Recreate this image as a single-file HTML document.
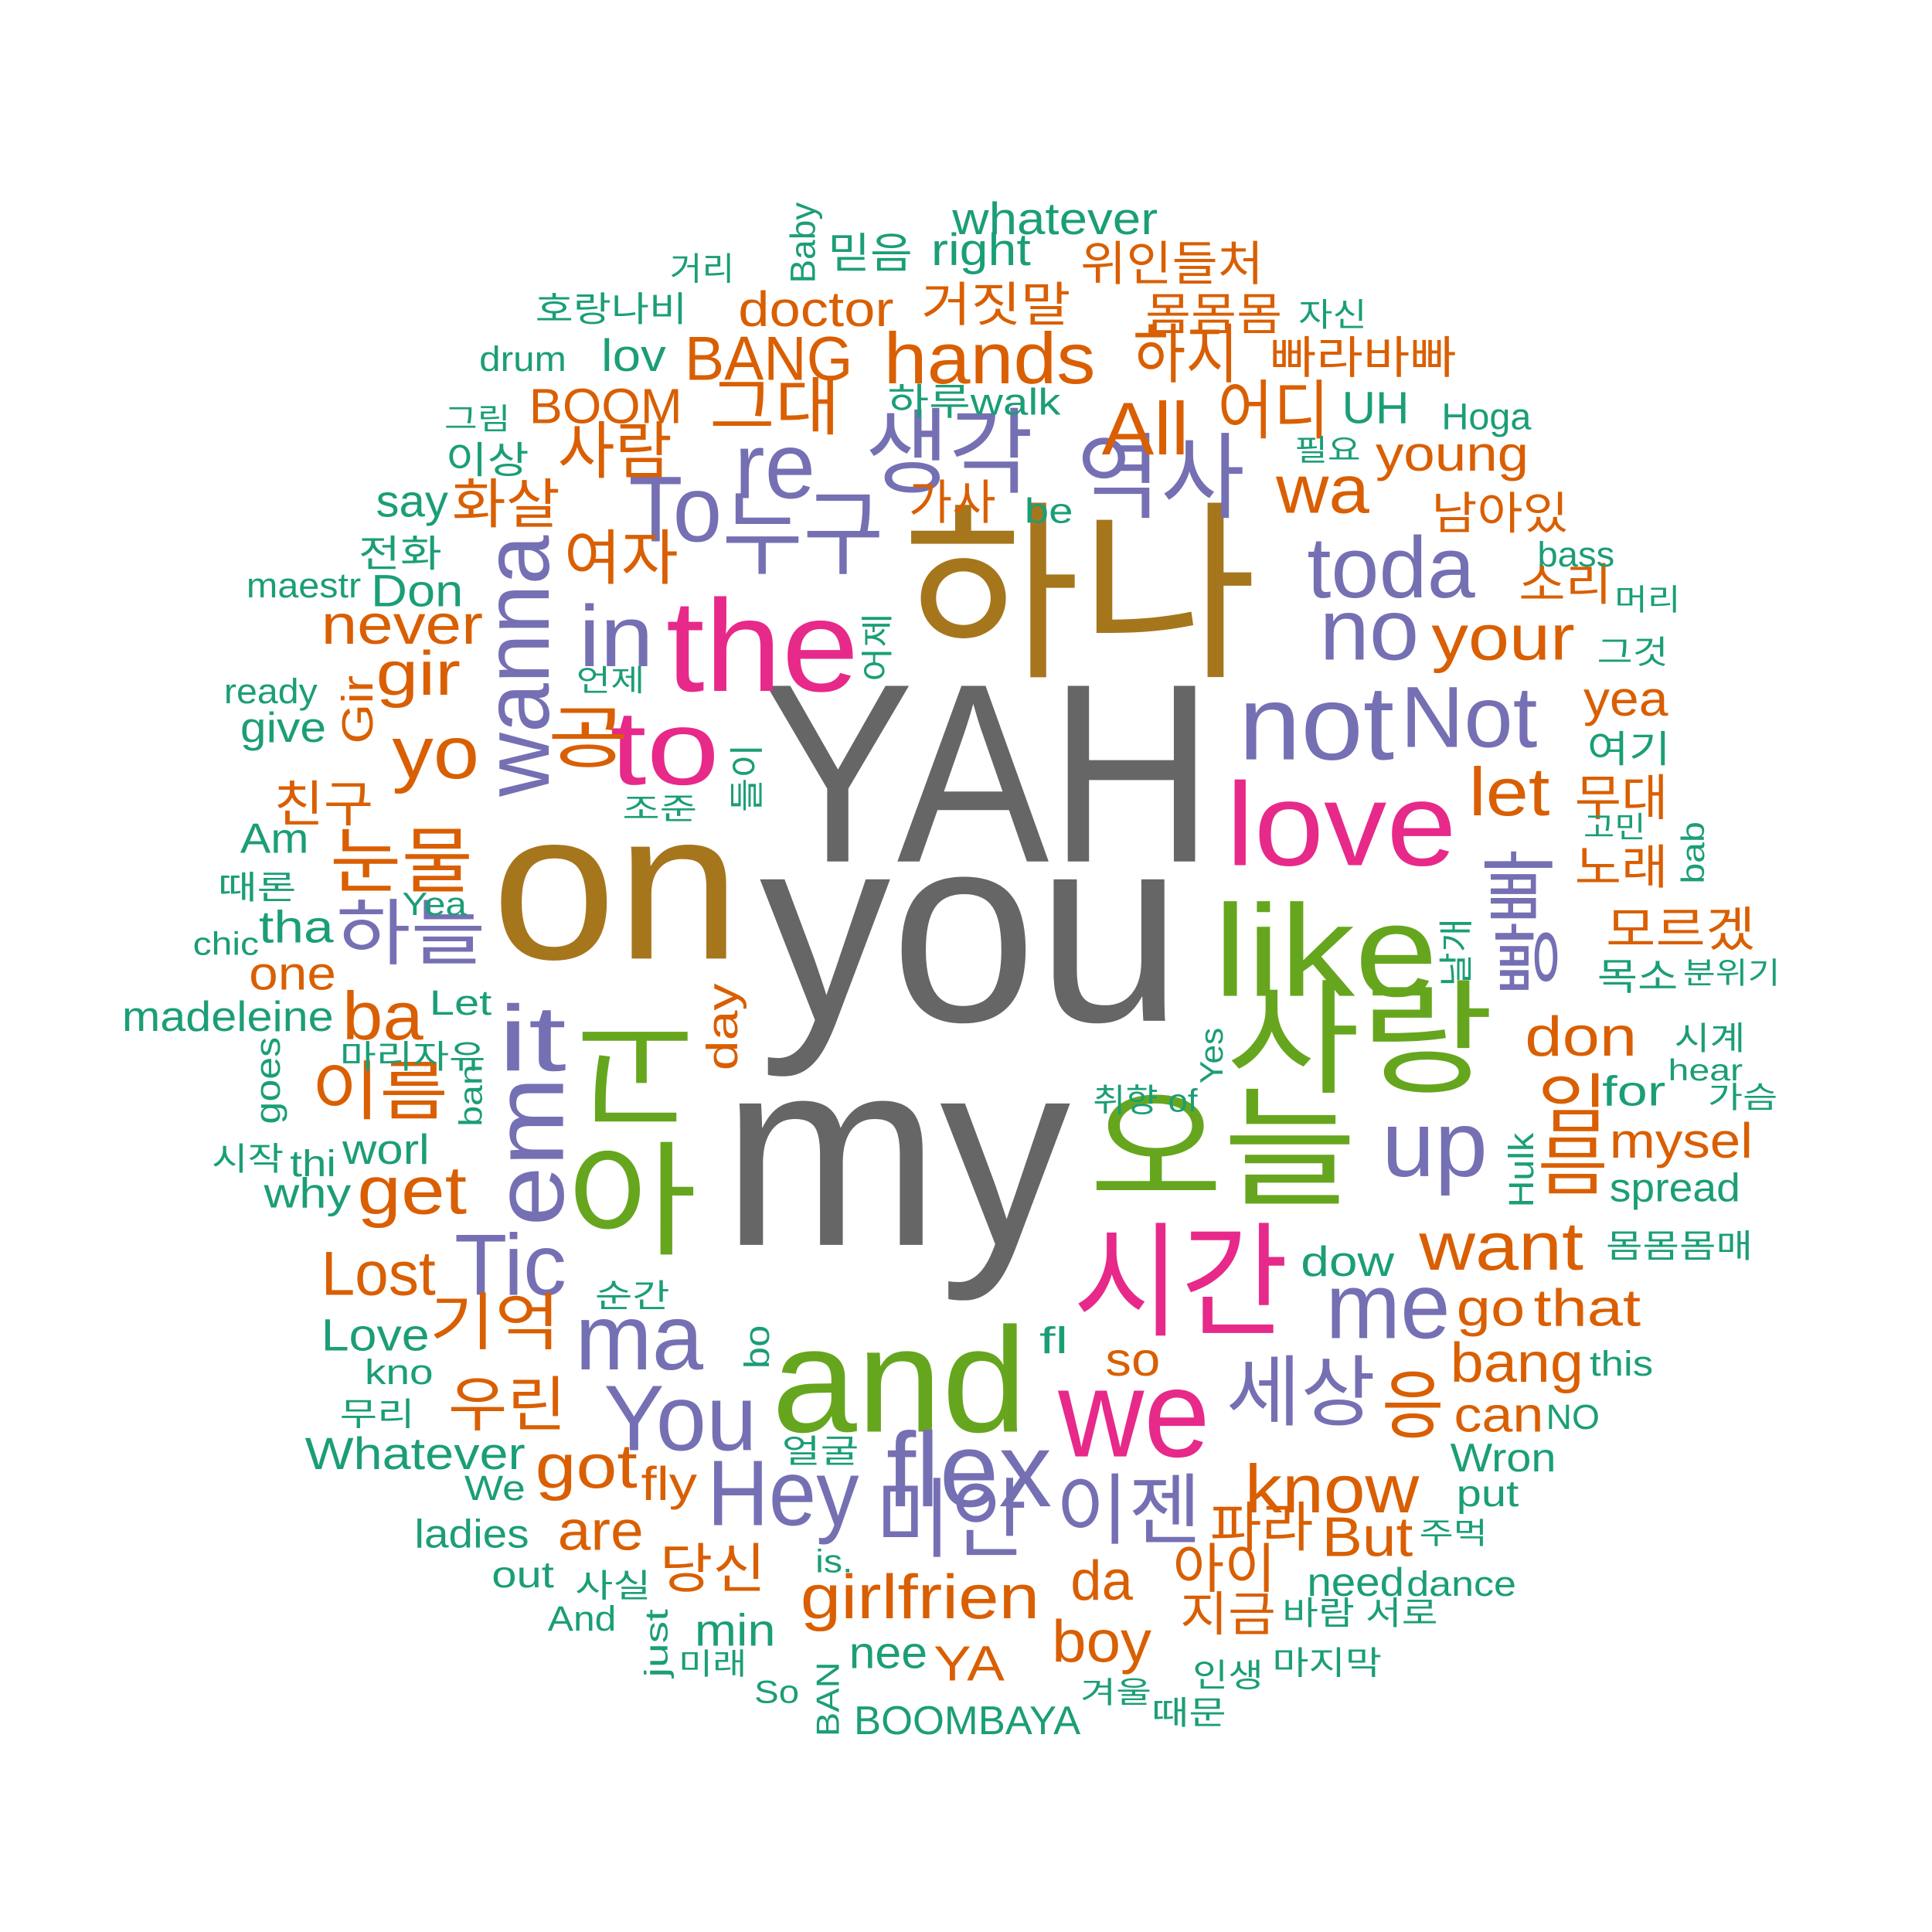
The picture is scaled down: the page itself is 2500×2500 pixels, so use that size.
<!DOCTYPE html>
<html><head><meta charset="utf-8"><style>
html,body{margin:0;padding:0;background:#fff;}
svg{display:block;}
text{font-family:"Liberation Sans","Noto Sans CJK KR",sans-serif;}
</style></head><body>
<svg id="cloud" width="2500" height="2500" viewBox="0 0 1552 1552" xmlns="http://www.w3.org/2000/svg">
<rect width="1552" height="1552" fill="#fff"/>
</svg>
<script>
const C={g:"#666666",b:"#a6761d",p:"#e7298a",G:"#66a61e",u:"#7570b3",o:"#d95f02",t:"#1b9e77"};
// horizontal words: text, x1, x2, baseline, size, colour
const words=[
["YAH",612,975,692,205,"g"],["you",610,950,820,215,"g"],["my",580,860,1000,215,"g"],
["하나",725,1010,532,155,"b"],["on",395,595,770,170,"b"],
["the",535,690,555,105,"p"],["to",490,578,630,85,"p"],["love",985,1170,695,95,"p"],["시간",862,1035,1065,100,"p"],["we",850,972,1170,100,"p"],
["like",975,1155,800,105,"G"],["사랑",985,1200,870,100,"G"],["오늘",875,1090,960,105,"G"],["and",620,825,1150,120,"G"],["아",455,560,1000,100,"G"],
["re",590,655,400,75,"u"],["누구",580,710,455,75,"u"],["생각",695,830,390,75,"u"],["역사",865,1000,410,75,"u"],["To",505,580,435,75,"u"],["in",465,525,535,70,"u"],["toda",1050,1185,480,70,"u"],["no",1060,1140,530,70,"u"],["not",995,1120,610,85,"u"],["Not",1125,1235,600,70,"u"],["it",400,455,860,75,"u"],["Tic",365,455,1040,70,"u"],["ma",462,565,1100,75,"u"],["You",485,608,1165,75,"u"],["Hey",568,690,1225,75,"u"],["flex",712,845,1210,85,"u"],["미안",703,825,1245,70,"u"],["이젠",848,965,1235,62,"u"],["세상",985,1105,1140,62,"u"],["me",1065,1165,1075,75,"u"],["up",1110,1195,945,75,"u"],["하늘",270,390,770,58,"u"],
["hands",710,880,308,58,"o"],["하지",910,995,303,52,"o"],["거짓말",740,860,258,38,"o"],["doctor",593,718,262,40,"o"],["위인들처",868,1015,225,38,"o"],["몸몸몸",920,1030,265,36,"o"],["빠라바빠",1020,1170,300,36,"o"],["BANG",550,685,305,50,"o"],["그대",570,675,345,52,"o"],["All",885,955,365,60,"o"],["어디",978,1068,348,52,"o"],["BOOM",425,548,340,40,"o"],["사람",448,540,380,50,"o"],["화살",363,450,420,43,"o"],["wa",1025,1100,412,55,"o"],["young",1105,1228,378,40,"o"],["남아있",1150,1260,425,36,"o"],["가사",730,800,417,38,"o"],["여자",453,545,465,48,"o"],["never",258,388,517,45,"o"],["gir",302,370,558,50,"o"],["yo",315,385,625,60,"o"],["your",1150,1265,530,52,"o"],["소리",1220,1295,482,36,"o"],["yea",1272,1340,575,40,"o"],["let",1180,1245,655,55,"o"],["무대",1265,1340,655,40,"o"],["노래",1265,1340,710,38,"o"],["모르겠",1290,1410,760,38,"o"],["친구",220,300,660,40,"o"],["눈물",265,380,712,58,"o"],["one",200,270,795,38,"o"],["ba",275,340,835,55,"o"],["이름",250,360,895,52,"o"],["get",287,375,975,55,"o"],["Lost",258,350,1040,50,"o"],["기억",345,450,1080,50,"o"],["우린",360,455,1145,48,"o"],["got",430,512,1195,50,"o"],["fly",515,560,1205,38,"o"],["are",448,517,1245,45,"o"],["당신",530,615,1275,43,"o"],["girlfrien",643,835,1300,50,"o"],["YA",750,807,1350,40,"o"],["boy",845,925,1335,48,"o"],["da",860,910,1285,45,"o"],["아이",942,1025,1275,43,"o"],["지금",948,1025,1310,38,"o"],["파라",972,1055,1242,43,"o"],["But",1062,1135,1250,45,"o"],["know",1000,1140,1215,55,"o"],["so",888,932,1105,38,"o"],["want",1140,1272,1020,55,"o"],["go",1170,1225,1065,42,"o"],["that",1232,1318,1065,42,"o"],["bang",1165,1272,1110,45,"o"],["can",1168,1240,1150,40,"o"],["don",1225,1315,848,45,"o"],["mysel",1293,1408,930,40,"o"],
["공",440,505,612,55,"o"],["응",1110,1160,1150,60,"o"],["임",1235,1292,905,52,"o"],["믐",1235,1292,955,52,"o"],
["whatever",765,930,188,36,"t"],["right",748,828,213,36,"t"],["믿음",665,733,215,34,"t"],["거리",538,590,225,26,"t"],["호랑나비",430,552,258,28,"t"],["drum",385,455,298,28,"t"],["lov",483,535,298,36,"t"],["자신",1043,1098,262,26,"t"],["하루walk",713,852,333,30,"t"],["UH",1078,1132,340,36,"t"],["Hoga",1158,1230,345,30,"t"],["그림",357,410,345,24,"t"],["이상",358,425,380,30,"t"],["필요",1040,1093,370,24,"t"],["be",823,862,420,28,"t"],["say",302,360,415,36,"t"],["전화",288,355,455,30,"t"],["maestr",198,290,480,28,"t"],["Don",298,372,487,36,"t"],["bass",1235,1297,455,28,"t"],["머리",1297,1350,490,24,"t"],["그것",1283,1340,533,26,"t"],["언제",463,518,555,24,"t"],["ready",180,255,565,28,"t"],["give",193,262,596,34,"t"],["조준",500,560,658,24,"t"],["여기",1275,1342,612,30,"t"],["고민",1272,1322,673,24,"t"],["Am",193,248,685,34,"t"],["때론",175,238,722,26,"t"],["Yea",323,375,735,26,"t"],["tha",208,268,757,36,"t"],["chic",155,208,767,26,"t"],["목소",1283,1348,795,30,"t"],["분위기",1352,1430,790,24,"t"],["madeleine",98,268,828,34,"t"],["Let",345,395,815,28,"t"],["시계",1345,1402,843,26,"t"],["hear",1340,1400,868,24,"t"],["for",1287,1338,888,34,"t"],["가슴",1372,1428,890,24,"t"],["마리자유",273,390,858,26,"t"],["취향 of",878,962,893,26,"t"],["시작",170,228,940,26,"t"],["thi",233,270,945,30,"t"],["worl",275,345,935,34,"t"],["why",212,282,970,34,"t"],["spread",1293,1398,965,32,"t"],["몸몸몸매",1290,1408,1010,26,"t"],["dow",1045,1120,1025,34,"t"],["순간",478,538,1050,26,"t"],["Love",258,345,1085,36,"t"],["fl",835,858,1087,30,"t"],["kno",293,348,1112,28,"t"],["this",1277,1328,1105,28,"t"],["무리",273,333,1145,26,"t"],["NO",1242,1285,1148,28,"t"],["얼굴",628,690,1175,26,"t"],["Whatever",245,422,1180,36,"t"],["Wron",1165,1250,1182,32,"t"],["We",373,422,1205,28,"t"],["put",1170,1220,1210,30,"t"],["ladies",333,425,1243,32,"t"],["주먹",1140,1195,1240,24,"t"],["is.",655,685,1263,26,"t"],["out",395,445,1275,30,"t"],["사실",462,523,1283,26,"t"],["need",1050,1128,1282,32,"t"],["dance",1130,1218,1282,28,"t"],["바람 서로",1030,1155,1305,26,"t"],["And",440,495,1310,28,"t"],["min",558,623,1322,36,"t"],["nee",682,745,1340,36,"t"],["미래",545,600,1345,24,"t"],["마지막",1022,1110,1345,26,"t"],["인생",958,1015,1355,26,"t"],["So",606,642,1368,26,"t"],["겨울",868,925,1368,24,"t"],["때문",925,985,1385,26,"t"],["BOOMBAYA",686,868,1393,32,"t"]
];
// rotated words: text, cx, cy, extent, size, colour, angle
const vwords=[
["고",510,860,95,105,"G",180],["wanna",415,535,210,75,"u",-90],["em",425,925,120,80,"u",-90],["빠",1222,712,60,60,"u",-90],["빵",1228,770,60,55,"u",-90],
["Gir",287,570,55,35,"o",-90],["day",580,825,70,35,"o",-90],
["Baby",645,195,65,28,"t",-90],["어제",705,520,55,26,"t",-90],["들이",600,625,55,28,"t",-90],["bab",1360,685,50,26,"t",-90],["날개",1170,765,55,28,"t",-90],["goes",215,868,70,28,"t",-90],["Yes",973,848,45,26,"t",-90],["ban",378,880,50,26,"t",-90],["Hulk",1222,940,60,28,"t",-90],["bo",608,1082,35,28,"t",-90],["just",527,1320,55,26,"t",-90],["BAN",665,1365,60,26,"t",-90]
];
const NS="http://www.w3.org/2000/svg";
const svg=document.getElementById("cloud");
function slug(s){return "word-"+s.toLowerCase().replace(/\s+/g,"-");}
words.forEach(w=>{
  const t=document.createElementNS(NS,"text");
  t.setAttribute("x",w[1]);t.setAttribute("y",w[3]);
  t.setAttribute("font-size",w[4]);t.setAttribute("fill",C[w[5]]);
  t.setAttribute("textLength",w[2]-w[1]);t.setAttribute("lengthAdjust","spacingAndGlyphs");
  t.textContent=w[0];
  
  
  svg.appendChild(t);
});
vwords.forEach(w=>{
  const t=document.createElementNS(NS,"text");
  t.setAttribute("transform","translate("+w[1]+","+w[2]+") rotate("+w[6]+")");
  t.setAttribute("x",0);t.setAttribute("y",0);
  t.setAttribute("text-anchor","middle");t.setAttribute("dominant-baseline","central");
  t.setAttribute("font-size",w[4]);t.setAttribute("fill",C[w[5]]);
  t.setAttribute("textLength",w[3]);t.setAttribute("lengthAdjust","spacingAndGlyphs");
  t.textContent=w[0];
  
  
  svg.appendChild(t);
});
</script>
</body></html>
